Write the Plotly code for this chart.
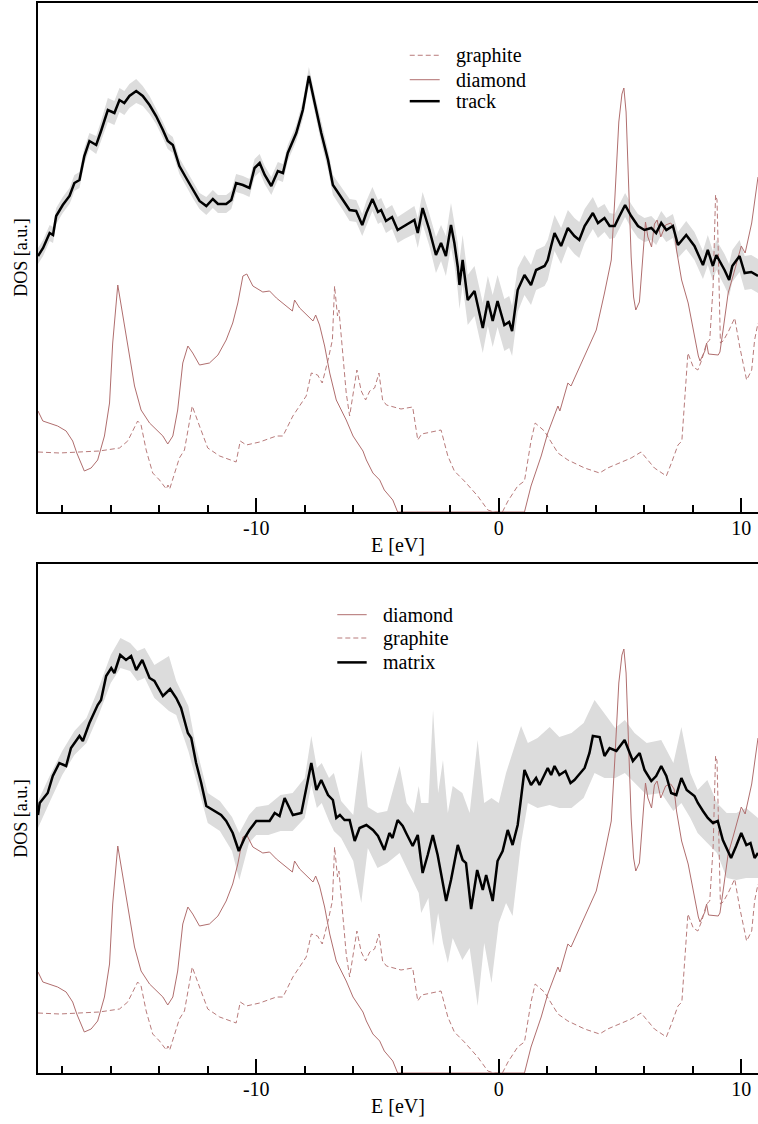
import plotly.graph_objects as go

# ---------------- data (E in eV, DOS in arbitrary units) ----------------
diamond_E = [
    -19.0, -18.8, -18.19, -17.84, -17.57, -17.4, -17.09, -16.81, -16.54, -16.26,
    -16.05, -15.92, -15.71, -15.44, -15.23, -15.02, -14.75, -14.40, -13.85, -13.65,
    -13.44, -13.24, -13.03, -12.82, -12.62, -12.34, -11.93, -11.58, -11.24, -10.97,
    -10.76, -10.55, -10.39, -10.14, -9.73, -9.45, -9.17, -8.76, -8.51, -8.42,
    -8.21, -7.66, -7.55, -7.39, -7.18, -6.97, -6.70, -6.29, -6.01, -5.60,
    -5.46, -5.19, -4.91, -4.72, -4.37, -4.17, 1.06, 1.33, 1.75, 2.02,
    2.44, 2.52, 2.85, 2.98, 3.54, 4.02, 4.36, 4.64, 4.79, 4.95,
    5.08, 5.16, 5.25, 5.35, 5.46, 5.56, 5.65, 5.80, 5.96, 6.05,
    6.15, 6.30, 6.42, 6.53, 6.68, 6.88, 7.09, 7.23, 7.33, 7.54,
    7.81, 8.02, 8.23, 8.30, 8.50, 8.57, 8.65, 9.05, 9.12, 9.25,
    9.46, 9.66, 10.0, 10.16, 10.43, 10.69]
diamond = [
    1.01, 0.91, 0.86, 0.81, 0.71, 0.59, 0.41, 0.44, 0.52, 0.76,
    1.09, 1.69, 2.27, 1.89, 1.56, 1.26, 1.02, 0.89, 0.76, 0.68,
    0.76, 1.02, 1.49, 1.66, 1.59, 1.47, 1.49, 1.57, 1.72, 1.89,
    2.09, 2.36, 2.38, 2.26, 2.20, 2.21, 2.14, 2.06, 2.01, 2.12,
    2.04, 1.91, 1.97, 1.87, 1.66, 1.39, 1.12, 0.92, 0.76, 0.61,
    0.52, 0.39, 0.32, 0.22, 0.12, 0.0, 0.0, 0.26, 0.56, 0.79,
    1.06, 1.01, 1.29, 1.26, 1.56, 1.82, 2.19, 2.52, 3.15, 3.90,
    4.18, 4.24, 4.00, 3.30, 2.55, 2.15, 2.02, 2.10, 2.60, 2.90,
    2.75, 2.65, 2.88, 2.92, 2.75, 2.87, 2.89, 2.84, 2.62, 2.32,
    2.09, 1.82, 1.56, 1.51, 1.61, 1.69, 1.58, 1.57, 1.60, 1.82,
    2.19, 2.36, 2.66, 2.59, 2.89, 3.35]

graphite_E = [
    -19.0, -18.12, -16.47, -15.64, -15.30, -14.89, -14.75, -14.54, -14.27, -13.99,
    -13.71, -13.64, -13.57, -13.17, -12.96, -12.64, -12.34, -12.00, -11.51, -10.83,
    -10.66, -10.41, -9.86, -9.17, -8.90, -8.49, -7.94, -7.73, -7.47, -7.28,
    -7.04, -6.86, -6.77, -6.65, -6.59, -6.47, -6.29, -6.15, -6.01, -5.85,
    -5.67, -5.49, -5.32, -5.12, -4.94, -4.79, -4.63, -4.03, -3.55, -3.34,
    -3.18, -2.38, -2.10, -1.83, -1.42, -0.87, -0.45, -0.20, 0.15, 0.38,
    0.78, 1.06, 1.33, 1.50, 1.88, 2.44, 2.85, 3.54, 4.16, 4.49,
    5.46, 5.87, 6.42, 6.91, 7.12, 7.39, 7.55, 7.70, 7.80, 8.02,
    8.21, 8.37, 8.57, 8.70, 8.84, 8.94, 9.00, 9.07, 9.14, 9.25,
    9.46, 9.73, 9.93, 10.22, 10.43, 10.55, 10.69]
graphite = [
    0.60, 0.59, 0.61, 0.64, 0.71, 0.91, 0.87, 0.62, 0.39, 0.32,
    0.23, 0.27, 0.23, 0.54, 0.62, 1.06, 0.86, 0.64, 0.56, 0.50,
    0.71, 0.67, 0.70, 0.76, 0.76, 0.96, 1.16, 1.39, 1.37, 1.29,
    1.52, 1.72, 2.26, 1.96, 2.02, 1.69, 1.19, 0.96, 1.19, 1.42,
    1.21, 1.12, 1.21, 1.24, 1.39, 1.12, 1.07, 1.03, 1.05, 0.72,
    0.78, 0.82, 0.56, 0.41, 0.31, 0.16, 0.02, 0.0, 0.0, 0.11,
    0.26, 0.31, 0.71, 0.89, 0.81, 0.59, 0.52, 0.44, 0.39, 0.44,
    0.54, 0.60, 0.44, 0.36, 0.49, 0.67, 0.71, 1.20, 1.59, 1.45,
    1.42, 1.52, 1.69, 1.72, 2.26, 3.17, 3.12, 2.42, 1.69, 1.71,
    1.80, 1.94, 1.66, 1.32, 1.42, 1.72, 1.89]

track_E = [
    -19.0, -18.79, -18.52, -18.38, -18.25, -17.98, -17.70, -17.63, -17.50, -17.29,
    -17.09, -16.88, -16.60, -16.40, -16.12, -15.85, -15.64, -15.44, -15.23, -14.95,
    -14.68, -14.40, -14.13, -13.85, -13.65, -13.44, -13.17, -12.89, -12.62, -12.34,
    -12.06, -11.79, -11.58, -11.24, -11.03, -10.83, -10.55, -10.28, -10.07, -9.86,
    -9.65, -9.38, -9.11, -8.90, -8.70, -8.35, -8.08, -7.83, -7.59, -7.32,
    -7.04, -6.84, -6.70, -6.43, -6.15, -5.88, -5.63, -5.46, -5.21, -4.98,
    -4.85, -4.65, -4.40, -4.17, -3.90, -3.48, -3.34, -3.14, -2.86, -2.59,
    -2.38, -2.18, -1.97, -1.83, -1.69, -1.62, -1.49, -1.28, -1.00, -0.66,
    -0.45, -0.25, -0.05, 0.23, 0.43, 0.55, 0.78, 1.06, 1.33, 1.54,
    1.89, 2.02, 2.16, 2.30, 2.57, 2.85, 3.12, 3.32, 3.54, 3.88,
    4.09, 4.36, 4.57, 4.78, 4.98, 5.21, 5.46, 5.74, 6.01, 6.29,
    6.49, 6.70, 6.91, 7.18, 7.39, 7.73, 8.07, 8.42, 8.62, 8.83,
    8.97, 9.31, 9.50, 9.63, 9.93, 10.14, 10.41, 10.69]
track = [
    2.56, 2.64, 2.79, 2.77, 2.96, 3.07, 3.16, 3.20, 3.29, 3.32,
    3.56, 3.71, 3.67, 3.81, 4.02, 3.99, 4.12, 4.09, 4.16, 4.21,
    4.16, 4.07, 3.96, 3.82, 3.71, 3.67, 3.46, 3.34, 3.22, 3.11,
    3.06, 3.13, 3.08, 3.08, 3.12, 3.29, 3.27, 3.24, 3.44, 3.49,
    3.37, 3.26, 3.41, 3.39, 3.59, 3.79, 4.02, 4.36, 4.09, 3.79,
    3.52, 3.27, 3.22, 3.12, 3.02, 3.01, 2.87, 2.99, 3.13, 3.00,
    3.02, 2.91, 2.95, 2.82, 2.86, 2.92, 2.79, 3.04, 2.82, 2.57,
    2.69, 2.56, 2.87, 2.69, 2.45, 2.27, 2.52, 2.12, 2.21, 1.84,
    2.11, 1.91, 2.11, 1.87, 1.90, 1.81, 2.22, 2.37, 2.27, 2.42,
    2.46, 2.52, 2.66, 2.79, 2.66, 2.84, 2.76, 2.72, 2.86, 2.99,
    2.89, 2.94, 2.86, 2.86, 2.96, 3.07, 2.96, 2.86, 2.82, 2.84,
    2.79, 2.89, 2.82, 2.86, 2.67, 2.77, 2.66, 2.47, 2.62, 2.46,
    2.57, 2.42, 2.32, 2.46, 2.56, 2.39, 2.40, 2.36]
track_err = [
    0.08, 0.08, 0.08, 0.08, 0.08, 0.08, 0.08, 0.08, 0.08, 0.08,
    0.08, 0.08, 0.09, 0.10, 0.12, 0.12, 0.12, 0.12, 0.12, 0.12,
    0.10, 0.09, 0.08, 0.08, 0.08, 0.08, 0.08, 0.08, 0.08, 0.08,
    0.09, 0.09, 0.09, 0.09, 0.09, 0.09, 0.09, 0.09, 0.09, 0.09,
    0.09, 0.09, 0.09, 0.09, 0.08, 0.08, 0.09, 0.09, 0.09, 0.10,
    0.10, 0.10, 0.10, 0.10, 0.11, 0.11, 0.11, 0.12, 0.12, 0.12,
    0.12, 0.12, 0.12, 0.13, 0.13, 0.14, 0.15, 0.16, 0.16, 0.18,
    0.18, 0.20, 0.22, 0.22, 0.24, 0.24, 0.25, 0.25, 0.25, 0.25,
    0.25, 0.26, 0.26, 0.26, 0.26, 0.25, 0.22, 0.20, 0.20, 0.20,
    0.20, 0.20, 0.19, 0.18, 0.18, 0.18, 0.18, 0.18, 0.17, 0.16,
    0.15, 0.14, 0.13, 0.12, 0.12, 0.12, 0.12, 0.12, 0.12, 0.12,
    0.12, 0.12, 0.12, 0.12, 0.13, 0.14, 0.14, 0.14, 0.15, 0.15,
    0.15, 0.16, 0.16, 0.16, 0.16, 0.17, 0.17, 0.17]

matrix_E = [
    -19.0, -18.93, -18.60, -18.39, -18.12, -17.84, -17.64, -17.29, -17.15, -16.88,
    -16.54, -16.40, -16.19, -15.98, -15.85, -15.61, -15.37, -15.16, -14.95, -14.70,
    -14.40, -14.20, -13.85, -13.55, -13.30, -13.10, -12.82, -12.68, -12.48, -12.27,
    -12.06, -11.72, -11.45, -11.24, -10.97, -10.72, -10.48, -10.28, -10.00, -9.72,
    -9.45, -9.24, -9.04, -8.83, -8.49, -8.14, -8.00, -7.73, -7.52, -7.32,
    -7.04, -6.84, -6.70, -6.55, -6.36, -6.15, -5.94, -5.74, -5.46, -5.19,
    -4.98, -4.72, -4.51, -4.38, -4.17, -3.96, -3.82, -3.55, -3.34, -3.14,
    -2.93, -2.72, -2.52, -2.17, -1.97, -1.69, -1.49, -1.35, -1.14, -0.89,
    -0.66, -0.52, -0.25, -0.05, 0.16, 0.37, 0.57, 0.78, 0.92, 1.06,
    1.33, 1.54, 1.68, 2.02, 2.16, 2.30, 2.50, 2.75, 2.96, 3.12,
    3.26, 3.54, 3.74, 3.88, 4.16, 4.36, 4.57, 4.85, 5.19, 5.40,
    5.53, 5.81, 6.01, 6.29, 6.49, 6.70, 6.91, 7.11, 7.32, 7.53,
    7.75, 8.07, 8.21, 8.42, 8.62, 8.83, 9.03, 9.24, 9.58, 9.79,
    10.00, 10.21, 10.38, 10.55, 10.69]
matrix = [
    2.58, 2.70, 2.80, 2.97, 3.10, 3.07, 3.25, 3.37, 3.32, 3.50,
    3.68, 3.73, 3.97, 4.05, 4.00, 4.18, 4.13, 4.17, 4.03, 4.13,
    3.95, 3.92, 3.77, 3.84, 3.75, 3.65, 3.40, 3.35, 3.10, 2.90,
    2.67, 2.62, 2.58, 2.52, 2.40, 2.22, 2.35, 2.43, 2.52, 2.52,
    2.52, 2.60, 2.57, 2.75, 2.58, 2.60, 2.77, 3.10, 2.83, 2.93,
    2.78, 2.73, 2.55, 2.58, 2.53, 2.53, 2.32, 2.45, 2.48, 2.43,
    2.37, 2.23, 2.40, 2.35, 2.53, 2.47, 2.40, 2.27, 2.38, 2.00,
    2.18, 2.38, 2.18, 1.72, 1.93, 2.28, 2.13, 2.10, 1.64, 2.03,
    1.83, 1.98, 1.72, 2.12, 2.22, 2.43, 2.28, 2.48, 2.75, 3.03,
    2.88, 2.95, 2.88, 3.05, 2.98, 3.07, 2.98, 3.02, 2.90, 2.93,
    2.97, 3.05, 3.20, 3.37, 3.36, 3.17, 3.25, 3.22, 3.33, 3.20,
    3.12, 3.20, 3.03, 2.92, 2.97, 3.07, 2.97, 2.80, 2.78, 2.95,
    2.83, 2.77, 2.70, 2.62, 2.55, 2.50, 2.52, 2.33, 2.15, 2.27,
    2.40, 2.28, 2.30, 2.15, 2.20]

matrix_band_E = [
    -19.0, -18.5, -18.0, -17.5, -17.0, -16.5, -16.0, -15.6, -15.2, -14.9,
    -14.6, -14.2, -13.6, -13.3, -12.8, -12.5, -12.0, -11.5, -11.0, -10.7,
    -10.3, -10.0, -9.5, -9.0, -8.5, -8.0, -7.73, -7.5, -7.3, -7.0,
    -6.8, -6.5, -6.0, -5.67, -5.4, -5.0, -4.6, -4.09, -3.8, -3.5,
    -3.3, -3.2, -2.9, -2.71, -2.5, -2.3, -2.1, -1.9, -1.5, -1.2,
    -0.87, -0.6, -0.3, 0.0, 0.3, 0.57, 0.92, 1.2, 1.6, 2.1,
    2.5, 3.0, 3.5, 3.95, 4.36, 4.8, 5.2, 5.6, 6.1, 6.7,
    7.2, 7.53, 7.9, 8.2, 8.6, 9.0, 9.4, 9.8, 10.2, 10.69]
matrix_band_hi = [
    2.72, 2.98, 3.22, 3.42, 3.55, 3.85, 4.18, 4.35, 4.30, 4.22,
    4.25, 4.08, 4.17, 3.92, 3.67, 3.28, 2.80, 2.72, 2.56, 2.40,
    2.58, 2.66, 2.68, 2.78, 2.80, 2.95, 3.37, 3.05, 3.10, 2.95,
    3.00, 2.72, 2.58, 3.23, 2.66, 2.60, 2.62, 3.07, 2.70, 2.60,
    2.87, 2.70, 2.70, 3.63, 2.80, 3.13, 2.60, 2.87, 2.80, 2.60,
    3.33, 2.70, 2.75, 2.70, 3.00, 3.20, 3.47, 3.30, 3.35, 3.46,
    3.36, 3.40, 3.50, 3.73, 3.60, 3.45, 3.53, 3.40, 3.30, 3.33,
    3.10, 3.46, 3.00, 2.83, 2.93, 2.70, 2.60, 2.60, 2.65, 2.55]
matrix_band_lo = [
    2.45, 2.72, 2.98, 3.18, 3.30, 3.58, 3.90, 4.05, 4.02, 3.92,
    3.95, 3.75, 3.62, 3.58, 3.22, 2.95, 2.50, 2.42, 2.22, 1.93,
    2.30, 2.38, 2.38, 2.42, 2.42, 2.55, 2.88, 2.65, 2.70, 2.52,
    2.42, 2.35, 2.12, 1.70, 2.25, 2.05, 2.10, 2.20, 2.05, 1.90,
    1.80, 1.60, 1.75, 1.27, 1.60, 1.30, 1.10, 1.35, 1.13, 1.25,
    0.67, 1.30, 0.90, 1.50, 1.70, 1.57, 2.30, 2.70, 2.65, 2.68,
    2.65, 2.65, 2.75, 3.00, 2.95, 2.95, 3.00, 2.90, 2.78, 2.80,
    2.62, 2.70, 2.55, 2.40, 2.30, 2.20, 1.95, 1.93, 1.95, 1.95]

x_tick_vals = [-10, 0, 10]
x_tick_text = ["-10", "0", "10"]
x_minor_vals = [-18, -16, -14, -12, -8, -6, -4, -2, 2, 4, 6, 8]

top_legend_names = ["graphite", "diamond", "track"]
bottom_legend_names = ["diamond", "graphite", "matrix"]

# ---------------- style ----------------
FONT = "'Liberation Serif', 'Times New Roman', Times, 'DejaVu Serif', serif"
DIAMOND_C = "#b06e6e"
GRAPHITE_C = "#b87b7b"
BAND_C = "#dcdcdc"
X_RANGE = [-19.0, 10.69]
Y_RANGE = [0, 5.09]
STYLE = {
    "graphite": dict(color=GRAPHITE_C, width=1, dash="5px,3px"),
    "diamond": dict(color=DIAMOND_C, width=1),
    "track": dict(color="black", width=2.5),
    "matrix": dict(color="black", width=2.5),
}

fig = go.Figure()


def band_trace(E, lo, hi, xa, ya):
    return go.Scatter(
        x=list(E) + list(E)[::-1], y=list(hi) + list(lo)[::-1],
        fill="toself", fillcolor=BAND_C, line=dict(width=0), mode="lines",
        hoverinfo="skip", showlegend=False, xaxis=xa, yaxis=ya)


def line_trace(E, v, name, xa, ya):
    return go.Scatter(x=E, y=v, mode="lines", name=name, line=STYLE[name],
                      xaxis=xa, yaxis=ya, showlegend=False)


# top panel
fig.add_trace(band_trace(track_E,
                         [v - e for v, e in zip(track, track_err)],
                         [v + e for v, e in zip(track, track_err)], "x", "y"))
fig.add_trace(line_trace(graphite_E, graphite, "graphite", "x", "y"))
fig.add_trace(line_trace(diamond_E, diamond, "diamond", "x", "y"))
fig.add_trace(line_trace(track_E, track, "track", "x", "y"))

# bottom panel
fig.add_trace(band_trace(matrix_band_E, matrix_band_lo, matrix_band_hi, "x2", "y2"))
fig.add_trace(line_trace(diamond_E, diamond, "diamond", "x2", "y2"))
fig.add_trace(line_trace(graphite_E, graphite, "graphite", "x2", "y2"))
fig.add_trace(line_trace(matrix_E, matrix, "matrix", "x2", "y2"))

tfont = dict(family=FONT, size=20, color="black")
yfont = dict(family=FONT, size=18, color="black")


def xaxis_cfg(anchor):
    return dict(
        range=X_RANGE, anchor=anchor, domain=[0, 1],
        showline=True, linecolor="black", linewidth=1.5, mirror=True,
        ticks="inside", ticklen=14, tickwidth=1.5, tickcolor="black",
        tickmode="array", tickvals=x_tick_vals, ticktext=x_tick_text,
        tickfont=tfont, showgrid=False, zeroline=False, ticklabelstandoff=-3,
        minor=dict(tickmode="array", tickvals=x_minor_vals, ticks="inside",
                   ticklen=7, tickwidth=1.5, tickcolor="black", showgrid=False),
        title=dict(text="E [eV]", font=tfont, standoff=0),
    )


def yaxis_cfg(anchor, domain):
    return dict(
        range=Y_RANGE, anchor=anchor, domain=domain,
        showline=True, linecolor="black", linewidth=1.5, mirror=False,
        ticks="", showticklabels=False, showgrid=False, zeroline=False,
        title=dict(text="DOS [a.u.]", font=yfont, standoff=4),
    )


# legend keys (line samples + labels), positioned in axis-domain fractions
shapes, annotations = [], []


def add_legend(names, xref, yref, x0, x1, xt, rows):
    for name, yy in zip(names, rows):
        shapes.append(dict(type="line", xref=xref, yref=yref, x0=x0, x1=x1,
                           y0=yy, y1=yy, line=STYLE[name], layer="above"))
        annotations.append(dict(text=name, xref=xref, yref=yref, x=xt, y=yy,
                                xanchor="left", yanchor="middle", showarrow=False,
                                font=tfont))


add_legend(top_legend_names, "x domain", "y domain", 0.5163, 0.5579, 0.5778,
           [0.8973, 0.8493, 0.8071])
add_legend(bottom_legend_names, "x2 domain", "y2 domain", 0.4157, 0.4565, 0.4760,
           [0.9004, 0.8546, 0.8067])

fig.update_layout(
    width=758, height=1124,
    margin=dict(l=38, r=0, t=3, b=51),
    paper_bgcolor="white", plot_bgcolor="white",
    font=dict(family=FONT, size=20, color="black"),
    xaxis=xaxis_cfg("y"),
    yaxis=yaxis_cfg("x", [0.5243, 1.0]),
    xaxis2=xaxis_cfg("y2"),
    yaxis2=yaxis_cfg("x2", [0.0, 0.4757]),
    shapes=shapes, annotations=annotations,
    showlegend=False,
)

fig.write_html("out.html")
